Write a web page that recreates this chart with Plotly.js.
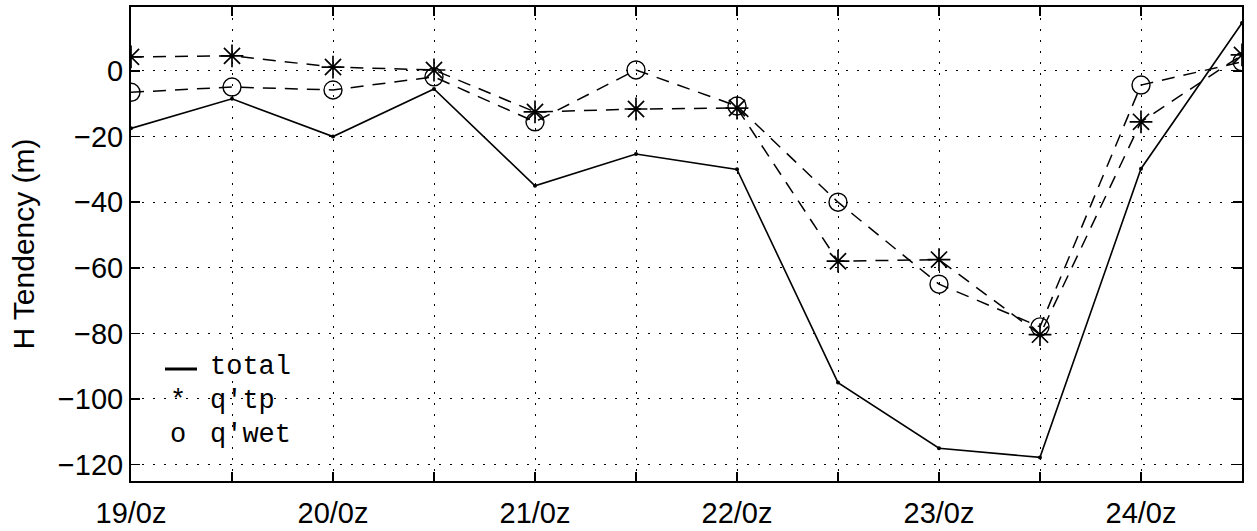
<!DOCTYPE html>
<html>
<head>
<meta charset="utf-8">
<script src="https://cdn.plot.ly/plotly-3.0.1.min.js"></script>
<style>html,body{margin:0;padding:0;background:#fff;}#chart{width:1257px;height:531px;}</style>
</head>
<body>
<div id="chart"></div>
<script>
// Time steps (12-hourly)
var times = ['19/0z','19/12z','20/0z','20/12z','21/0z','21/12z','22/0z','22/12z','23/0z','23/12z','24/0z','24/12z'];
// Series values (m)
var total = [-17.5, -8.5, -20, -5.5, -35, -25.3, -30, -95, -115, -117.8, -29.8, 14.6];
var qtp   = [4.3, 4.6, 1.2, 0.3, -12.5, -11.6, -11.3, -58, -57.5, -80.4, -15.5, 4.9];
var qwet  = [-6.5, -4.9, -5.8, -1.8, -15.5, 0.3, -10.7, -40, -65, -78, -4.3, 2.8];
// Y ticks
var yTicks = [-120, -100, -80, -60, -40, -20, 0];
// Legend labels
var legendSymbols = ['', '*', 'o'];
var legendLabels = ['total', 'q\u2032tp', 'q\u2032wet'];

var idx = times.map(function(_, i){ return i; });
var tickText = times.map(function(t){ return /\/0z$/.test(t) ? t : ''; });

var traces = [
  {x: idx, y: total, mode: 'lines+markers', line: {color: '#000', width: 1.6},
   marker: {symbol: 'circle', size: 4, color: '#000'}, showlegend: false},
  {x: idx, y: qtp, mode: 'lines+markers', line: {color: '#000', width: 1.5, dash: '13px,9px'},
   marker: {symbol: 'asterisk-open', size: 19, color: '#000', line: {color: '#000', width: 1.7}}, showlegend: false},
  {x: idx, y: qwet, mode: 'lines+markers', line: {color: '#000', width: 1.5, dash: '13px,9px'},
   marker: {symbol: 'circle-open', size: 18, color: '#000', line: {color: '#000', width: 1.4}}, showlegend: false}
];

// legend layout (paper coords, plot area 131..1242 x 7..481)
function px(x){ return (x - 131) / 1111; }
function py(y){ return (481 - y) / 474; }
var rowY = [367, 401, 435];
var legendFont = {family: '"Liberation Mono", "Courier New", monospace', size: 27, color: '#000'};
var annotations = [];
legendLabels.forEach(function(lbl, i){
  annotations.push({xref: 'paper', yref: 'paper', x: px(208), y: py(rowY[i]), xanchor: 'left', yanchor: 'middle',
    text: lbl, showarrow: false, font: legendFont});
  if (legendSymbols[i]) {
    annotations.push({xref: 'paper', yref: 'paper', x: px(178), y: py(rowY[i]), xanchor: 'center', yanchor: 'middle',
      text: legendSymbols[i], showarrow: false, font: legendFont});
  }
});
var shapes = [{type: 'line', xref: 'paper', yref: 'paper', x0: px(165), x1: px(197), y0: py(369), y1: py(369),
  line: {color: '#000', width: 3}}];

var layout = {
  width: 1257, height: 531,
  margin: {l: 131, r: 15, t: 7, b: 50, pad: 0},
  paper_bgcolor: '#fff', plot_bgcolor: '#fff',
  font: {family: '"Liberation Sans", Arial, sans-serif', size: 29, color: '#000'},
  xaxis: {
    range: [0, times.length - 1], tickvals: idx, ticktext: tickText,
    ticks: 'inside', ticklen: 9, tickwidth: 1.5, tickcolor: '#000',
    showline: true, linecolor: '#000', linewidth: 2, mirror: 'ticks',
    showgrid: true, gridcolor: '#000', gridwidth: 1, griddash: '2px,9px',
    zeroline: false, tickfont: {size: 29}, ticklabelstandoff: 5
  },
  yaxis: {
    range: [-125, 19.5], tickvals: yTicks, ticktext: yTicks.map(function(v){ return v < 0 ? '\u2212' + Math.abs(v) : String(v); }),
    ticks: 'inside', ticklen: 9, tickwidth: 1.5, tickcolor: '#000',
    showline: true, linecolor: '#000', linewidth: 2, mirror: 'ticks',
    showgrid: true, gridcolor: '#000', gridwidth: 1, griddash: '2px,9px',
    zeroline: false, tickfont: {size: 29},
    title: {text: 'H Tendency (m)', font: {size: 30}, standoff: 14}
  },
  showlegend: false,
  annotations: annotations,
  shapes: shapes
};

Plotly.newPlot('chart', traces, layout, {staticPlot: true, displayModeBar: false});
</script>
</body>
</html>
